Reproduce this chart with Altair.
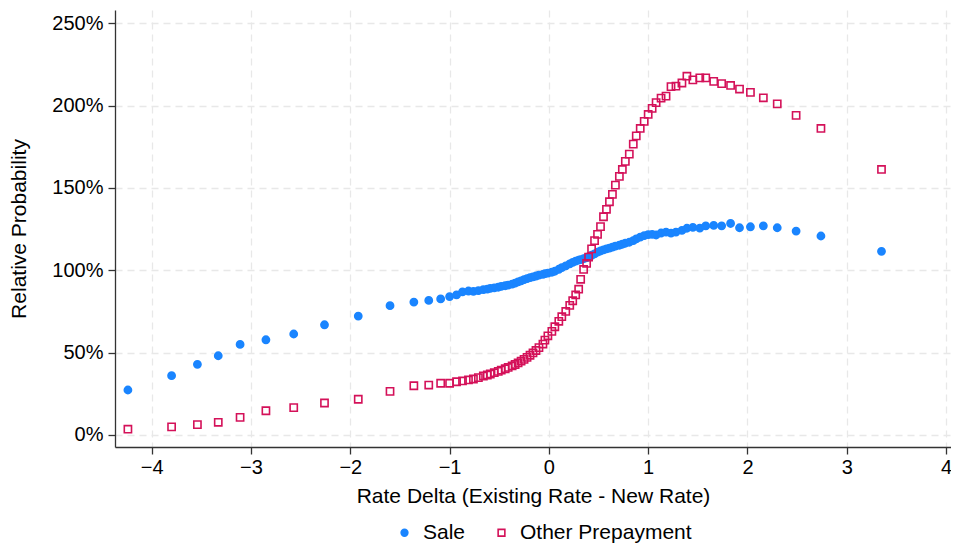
import altair as alt
import pandas as pd

# rate delta bins (shared by both series)
rate_delta = [
    -4.24, -3.80, -3.54, -3.33, -3.11, -2.85, -2.57, -2.26, -1.92, -1.60,
    -1.36, -1.21, -1.09, -1.00, -0.93, -0.87, -0.81, -0.76, -0.71, -0.66,
    -0.62, -0.59, -0.55, -0.51, -0.48, -0.44, -0.41, -0.37, -0.34, -0.31,
    -0.28, -0.25, -0.22, -0.19, -0.16, -0.13, -0.10, -0.06, -0.04, -0.01,
    0.03, 0.06, 0.10, 0.13, 0.17, 0.21, 0.24, 0.27, 0.30, 0.32,
    0.35, 0.38, 0.40, 0.43, 0.46, 0.49, 0.52, 0.55, 0.58, 0.61,
    0.64, 0.67, 0.71, 0.74, 0.77, 0.81, 0.85, 0.88, 0.92, 0.96,
    1.00, 1.04, 1.08, 1.13, 1.18, 1.23, 1.28, 1.34, 1.39, 1.45,
    1.52, 1.58, 1.66, 1.74, 1.83, 1.92, 2.03, 2.16, 2.30, 2.49,
    2.74, 3.35,
]

# relative probability, in percent
sale = [
    27.3, 36.0, 42.9, 48.1, 55.0, 57.8, 61.3, 66.9, 72.2, 78.5,
    80.7, 81.7, 82.6, 84.0, 85.0, 86.9, 87.4, 87.2, 87.6, 88.2,
    88.6, 89.0, 89.3, 89.7, 90.2, 90.6, 91.0, 91.6, 92.2, 92.9,
    93.6, 94.3, 94.9, 95.5, 96.0, 96.5, 97.1, 97.5, 97.9, 98.3,
    98.8, 99.4, 100.6, 101.6, 102.7, 103.9, 104.8, 105.6, 106.1, 106.5,
    107.0, 107.6, 108.2, 109.1, 110.0, 111.0, 111.7, 112.4, 113.0, 113.4,
    114.0, 114.6, 115.2, 115.8, 116.4, 117.0, 118.0, 119.0, 120.1, 121.0,
    121.6, 121.8, 121.4, 122.6, 123.2, 122.5, 123.2, 124.2, 125.5, 126.0,
    125.6, 126.9, 127.2, 127.0, 128.4, 125.8, 126.4, 127.0, 125.8, 123.8,
    120.8, 111.5,
]

other_prepay = [
    3.5, 4.9, 6.3, 7.7, 10.7, 14.7, 16.6, 19.4, 21.7, 26.5,
    29.9, 30.3, 31.4, 31.4, 32.3, 32.8, 33.4, 34.0, 34.8, 35.8,
    36.4, 37.0, 37.8, 38.6, 39.4, 40.2, 41.0, 41.9, 42.8, 43.8,
    44.8, 45.9, 47.1, 48.4, 49.8, 51.3, 53.0, 55.2, 57.6, 60.2,
    62.9, 65.7, 69.0, 71.8, 75.0, 78.7, 81.5, 85.0, 88.5, 94.5,
    100.5, 104.2, 108.0, 113.0, 118.0, 121.8, 126.5, 132.5, 137.0, 141.6,
    146.1, 151.7, 157.0, 161.2, 166.1, 170.5, 176.6, 181.6, 186.1, 190.4,
    194.6, 198.3, 201.8, 204.5, 205.7, 211.5, 211.8, 213.7, 217.8, 215.6,
    216.8, 216.8, 214.7, 213.3, 212.2, 210.0, 208.0, 204.7, 201.0, 194.0,
    186.1, 161.2,
]

series_names = ["Sale", "Other Prepayment"]
x_ticks = [-4, -3, -2, -1, 0, 1, 2, 3, 4]
y_ticks = [0, 50, 100, 150, 200, 250]

df = pd.concat([
    pd.DataFrame({"delta": rate_delta, "prob": sale, "series": "Sale"}),
    pd.DataFrame({"delta": rate_delta, "prob": other_prepay, "series": "Other Prepayment"}),
], ignore_index=True)

FONT = "Liberation Sans"
BLUE = "#1A85FF"
RED = "#D41159"

legend = alt.Legend(
    title=None, orient="none", direction="horizontal",
    legendX=279, legendY=512, labelFontSize=21, labelFont=FONT,
    labelColor="black", labelLimit=400, symbolSize=45, symbolStrokeWidth=1.6,
    labelOffset=8, columnPadding=25, padding=0,
)

points = alt.Chart(df).mark_point(size=52, strokeWidth=1.6, opacity=1).encode(
    alt.X("delta:Q", title="Rate Delta (Existing Rate - New Rate)",
          scale=alt.Scale(domain=[-4.37, 4.05], nice=False, zero=False),
          axis=alt.Axis(values=x_ticks, labelPadding=3, titlePadding=8)),
    alt.Y("prob:Q", title="Relative Probability",
          scale=alt.Scale(domain=[-7.3, 258], nice=False, zero=False),
          axis=alt.Axis(values=y_ticks, labelExpr="datum.value + '%'",
                        labelPadding=5, titlePadding=22)),
    alt.Shape("series:N", scale=alt.Scale(domain=series_names, range=["circle", "square"]),
              legend=legend),
    alt.Stroke("series:N", scale=alt.Scale(domain=series_names, range=[BLUE, RED]),
               legend=legend),
    alt.Fill("series:N", scale=alt.Scale(domain=series_names, range=[BLUE, "transparent"]),
             legend=legend),
)

# keep the whole svg inside the 943px body so the page never overflows
chart = points.properties(
    width=836, height=437,
    autosize=alt.AutoSizeParams(type="none"),
    padding={"left": 107, "top": 2, "right": 0, "bottom": 97},
).configure_view(
    stroke=None
).configure_axis(
    labelFont=FONT, titleFont=FONT, labelFontSize=20, titleFontSize=21,
    labelColor="black", titleColor="black", titleFontWeight="normal",
    domainColor="#333333", domainWidth=1.3, tickColor="#333333", tickWidth=1.3,
    tickSize=7, gridColor="#e8e8e8", gridDash=[7, 5], gridWidth=1.3,
)

chart.save("out.html", embed_options={"renderer": "svg", "actions": False})
